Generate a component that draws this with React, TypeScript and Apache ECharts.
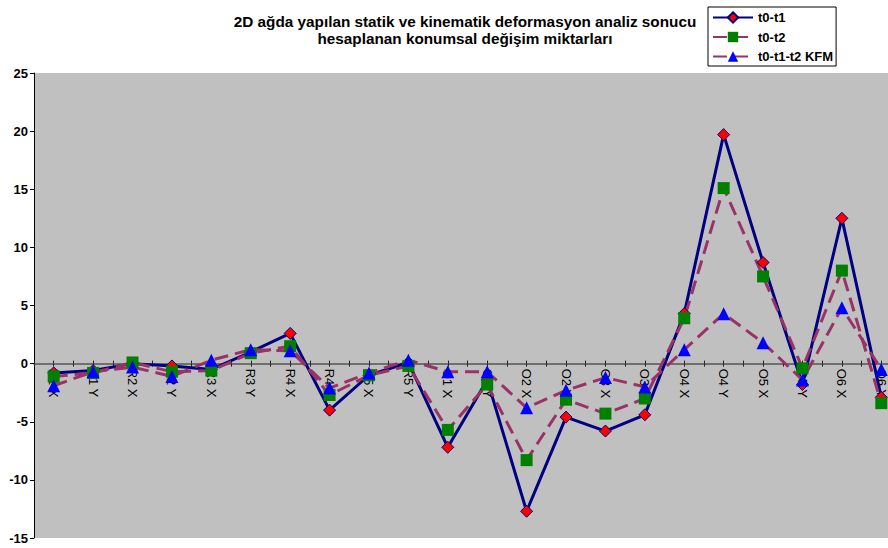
import React, { useEffect, useRef } from "react";
import * as echarts from "echarts";

const categories = [
  "R1 X", "R1 Y", "R2 X", "R2 Y", "R3 X", "R3 Y", "R4 X", "R4 Y", "R5 X", "R5 Y",
  "O1 X", "O1 Y", "O2 X", "O2 Y", "O3 X", "O3 Y", "O4 X", "O4 Y", "O5 X", "O5 Y", "O6 X", "O6 Y",
];

const t0t1 = [-0.8, -0.6, 0.0, -0.2, -0.5, 1.0, 2.6, -4.0, -1.0, 0.1, -7.2, -1.4, -12.7, -4.6, -5.8, -4.4, 4.3, 19.7, 8.7, -1.8, 12.5, -2.9];
const t0t2 = [-1.1, -0.8, 0.1, -0.7, -0.6, 0.9, 1.5, -2.7, -1.0, -0.2, -5.7, -1.8, -8.3, -3.1, -4.3, -3.0, 3.9, 15.1, 7.5, -0.4, 8.0, -3.4];
const kfm = [-1.9, -0.7, -0.3, -1.1, 0.3, 1.2, 1.1, -2.1, -0.8, 0.3, -0.7, -0.7, -3.8, -2.3, -1.2, -2.0, 1.2, 4.3, 1.8, -1.4, 4.8, -0.5];

const yTicks = { min: -15, max: 25, interval: 5 };

const seriesNames = ["t0-t1", "t0-t2", "t0-t1-t2 KFM"];
const titleLines = [
  "2D ağda yapılan statik ve kinematik deformasyon analiz sonucu",
  "hesaplanan konumsal değişim miktarları",
];

const FONT = "'Liberation Sans', Arial, sans-serif";
const GRID = { left: 34, top: 73, width: 867, height: 465 };
// axis sits at y = 0: distance from the grid bottom
const zeroOffset = -(GRID.height * (0 - yTicks.min)) / (yTicks.max - yTicks.min);

const catLabel = (v: number) => {
  const i = Math.round(v);
  return Math.abs(v - i) < 1e-6 && categories[i] ? categories[i] : "";
};

function mkX(inside: boolean, main: boolean) {
  return {
    type: "value",
    min: -0.5,
    max: categories.length - 0.5,
    interval: 0.5,
    position: "bottom",
    offset: zeroOffset,
    axisLine: { show: main, onZero: false, lineStyle: { color: "#555555", width: 1.5 } },
    axisTick: { show: true, inside, length: 3, lineStyle: { color: "#222222", width: 1 } },
    axisLabel: {
      show: main,
      rotate: -90,
      margin: 5,
      color: "#000000",
      fontFamily: FONT,
      fontSize: 13,
      showMinLabel: true,
      showMaxLabel: true,
      formatter: catLabel,
    },
    splitLine: { show: false },
  };
}

const pairs = (arr: number[]) => arr.map((v, i) => [i, v]);

export default function App() {
  const ref = useRef<HTMLDivElement>(null);
  useEffect(() => {
    document.body.style.margin = "0";
    if (!ref.current) return;
    const chart = echarts.init(ref.current, undefined, { renderer: "svg" });
    chart.setOption({
      animation: false,
      backgroundColor: "#ffffff",
      title: {
        text: titleLines.join("\n"),
        left: 460,
        top: 8,
        textAlign: "center",
        textStyle: {
          fontFamily: FONT,
          fontSize: 15.3,
          fontWeight: "bold",
          color: "#000000",
          lineHeight: 17,
        },
      },
      legend: {
        left: 708,
        top: 7,
        orient: "vertical",
        backgroundColor: "#ffffff",
        borderColor: "#000000",
        borderWidth: 1,
        padding: [4, 3, 3, 4],
        itemGap: 6.5,
        itemWidth: 40,
        itemHeight: 13,
        textStyle: { fontFamily: FONT, fontSize: 13, fontWeight: "bold", color: "#000000" },
        data: seriesNames,
      },
      grid: {
        ...GRID,
        show: true,
        backgroundColor: "#C0C0C0",
        borderWidth: 0,
        outerBoundsMode: "none",
        containLabel: false,
      },
      xAxis: [mkX(false, true), mkX(true, false)],
      yAxis: {
        type: "value",
        ...yTicks,
        position: "left",
        axisLine: { show: true, onZero: false, lineStyle: { color: "#000000", width: 1 } },
        axisTick: { show: true, length: 4, lineStyle: { color: "#000000" } },
        axisLabel: { color: "#000000", fontFamily: FONT, fontSize: 13, fontWeight: "bold", margin: 6 },
        splitLine: { show: false },
      },
      series: [
        {
          name: seriesNames[0],
          type: "line",
          data: pairs(t0t1),
          symbol: "diamond",
          symbolSize: 12,
          lineStyle: { color: "#000080", width: 3 },
          itemStyle: { color: "#FF0000", borderColor: "#000080", borderWidth: 1 },
        },
        {
          name: seriesNames[1],
          type: "line",
          data: pairs(t0t2),
          symbol: "rect",
          symbolSize: 12,
          lineStyle: { color: "#993366", width: 3, type: [14, 7] },
          itemStyle: { color: "#008000", borderWidth: 0 },
        },
        {
          name: seriesNames[2],
          type: "line",
          data: pairs(kfm),
          symbol: "triangle",
          symbolSize: 13,
          lineStyle: { color: "#993366", width: 3, type: [14, 7] },
          itemStyle: { color: "#0000FF", borderWidth: 0 },
        },
      ],
    });
    return () => chart.dispose();
  }, []);
  return <div ref={ref} style={{ width: 888, height: 548 }} />;
}
